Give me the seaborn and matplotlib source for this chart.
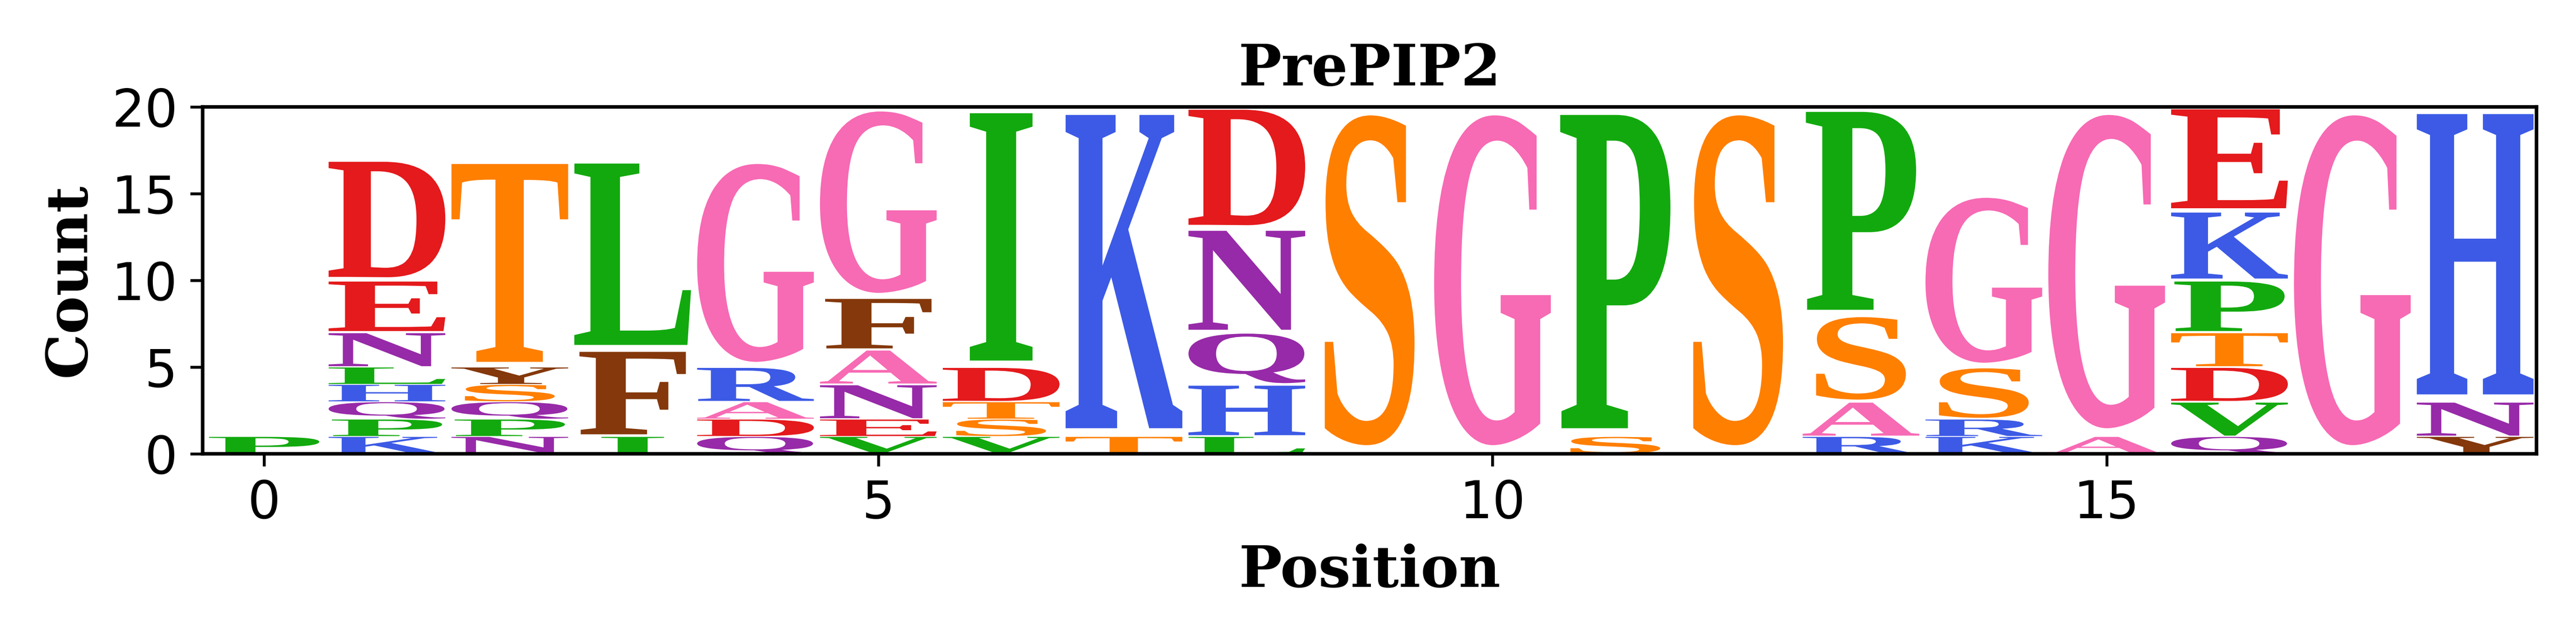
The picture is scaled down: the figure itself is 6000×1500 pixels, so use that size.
import matplotlib
matplotlib.use("Agg")
import matplotlib.pyplot as plt
import numpy as np
import seaborn as sns
from matplotlib.textpath import TextPath
from matplotlib.patches import PathPatch
from matplotlib.font_manager import FontProperties
from matplotlib.transforms import Affine2D

# counts per position, letters listed bottom -> top of each stack
positions = list(range(19))
stack_letters = ["P", "KPQHLNED", "NPQSYT", "IFL", "QDARG", "VENAFG", "VSTDI", "TK",
                 "LHQND", "S", "G", "SP", "S", "RASP", "KRSG", "AG", "QVDTPKE", "G", "YNH"]
stack_counts = [[1], [1, 1, 1, 1, 1, 2, 3, 7], [1, 1, 1, 1, 1, 12], [1, 5, 11], [1, 1, 1, 2, 12],
                [1, 1, 2, 2, 3, 11], [1, 1, 1, 2, 15], [1, 19], [1, 3, 3, 6, 7], [20], [20],
                [1, 19], [20], [1, 2, 5, 12], [1, 1, 3, 10], [1, 19], [1, 2, 2, 2, 3, 4, 6],
                [20], [1, 2, 17]]

letter_colors = {
    'D': '#e41a1c', 'E': '#e41a1c',
    'S': '#ff7f00', 'T': '#ff7f00',
    'L': '#12a90e', 'I': '#12a90e', 'V': '#12a90e', 'P': '#12a90e', 'M': '#12a90e',
    'G': '#f76ab4', 'A': '#f76ab4',
    'K': '#3c5ae5', 'R': '#3c5ae5', 'H': '#3c5ae5',
    'N': '#972aa8', 'Q': '#972aa8',
    'F': '#84380b', 'Y': '#84380b', 'W': '#84380b',
}

sns.set_style("ticks", rc={'axes.edgecolor': 'black', 'xtick.color': 'black', 'ytick.color': 'black',
                           'axes.labelcolor': 'black', 'text.color': 'black', 'axes.linewidth': 1.0})
plt.rcParams['font.family'] = ['DejaVu Sans']

glyph_font = FontProperties(family="Liberation Serif", weight="bold")


def glyph(ch):
    path = TextPath((0, 0), ch, size=1, prop=glyph_font)
    ext = path.get_extents()
    return path, ext


_, e_ext = glyph('E')
e_width = e_ext.width


def draw_letter(ax, ch, x, floor, ceil, width=0.95, vpad=0.05):
    path, ext = glyph(ch)
    h = ceil - floor
    y0 = floor + vpad * h / 2
    gh = h * (1 - vpad)
    hs = min(width / ext.width, width / e_width)
    vs = gh / ext.height
    char_w = hs * ext.width
    tr = Affine2D().translate(-ext.x0, -ext.y0).scale(hs, vs).translate(x - char_w / 2, y0)
    ax.add_patch(PathPatch(tr.transform_path(path), facecolor=letter_colors[ch],
                           edgecolor='none', zorder=1))


fig = plt.figure(figsize=(10, 2.5), dpi=600)
ax = fig.add_axes([0.0787, 0.2953, 0.906, 0.539])

for pos, letters, counts in zip(positions, stack_letters, stack_counts):
    floor = 0
    for ch, c in zip(letters, counts):
        draw_letter(ax, ch, pos, floor, floor + c)
        floor += c

ax.set_xlim(-0.5, 18.5)
ax.set_ylim(0, 20)
ax.set_xticks([0, 5, 10, 15])
ax.set_yticks([0, 5, 10, 15, 20])
ax.tick_params(labelsize=14.5, length=3.5, width=0.8, direction='out', colors='black')
for s in ax.spines.values():
    s.set_visible(True)
    s.set_linewidth(1.0)
    s.set_color('black')

ax.set_title("PrePIP2", fontsize=16, fontweight='bold', family='DejaVu Serif', color='black')
ax.set_xlabel("Position", fontsize=16, fontweight='bold', family='DejaVu Serif', color='black')
ax.set_ylabel("Count", fontsize=16, fontweight='bold', family='DejaVu Serif', color='black')

fig.savefig("out.png", dpi=600)
